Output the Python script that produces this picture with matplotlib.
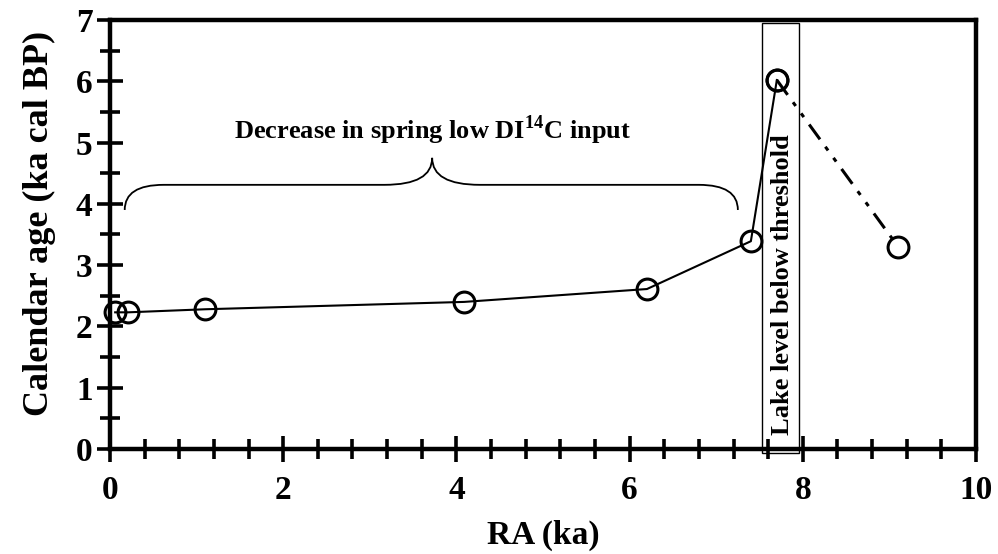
import numpy as np
import matplotlib
matplotlib.use("Agg")
import matplotlib.pyplot as plt
from matplotlib.path import Path
from matplotlib.patches import PathPatch, Rectangle
from matplotlib.ticker import MultipleLocator

# ── Data ──────────────────────────────────────────────────────────────────────
ra_main  = [0.06, 0.21, 1.10, 4.09, 6.20, 7.40, 7.70]   # RA (ka), solid segment
age_main = [2.23, 2.23, 2.28, 2.40, 2.61, 3.39, 6.02]   # calendar age (ka cal BP)
ra_tail  = [7.70, 9.10]                                  # dash-dot segment
age_tail = [6.02, 3.30]

x_ticks = [0, 2, 4, 6, 8, 10]
y_ticks = [0, 1, 2, 3, 4, 5, 6, 7]

brace_x = (0.17, 7.25)      # brace span in RA
brace_peak = 3.72
lake_box = (7.53, 7.95)     # RA range of the "lake level" box

# ── Style ─────────────────────────────────────────────────────────────────────
plt.rcParams['font.family'] = ['Liberation Serif', 'DejaVu Serif']
plt.rcParams['font.weight'] = 'bold'
plt.rcParams['mathtext.fontset'] = 'custom'
plt.rcParams['mathtext.rm'] = 'Liberation Serif:bold'
plt.rcParams['mathtext.bf'] = 'Liberation Serif:bold'

fig = plt.figure(figsize=(9.98, 5.54), dpi=100)
ax = fig.add_axes([0.1102, 0.1895, 0.978 - 0.1102, 0.964 - 0.1895])

ax.plot(ra_main, age_main, color='black', lw=1.5, marker='o', ms=15,
        mfc='none', mec='black', mew=2.2, clip_on=False, zorder=3)
ax.plot(ra_tail, age_tail, color='black', lw=2.2, dashes=(6, 3, 1.5, 3, 1.5, 3),
        marker='o', ms=15, mfc='none', mec='black', mew=2.2, zorder=3)

ax.set_xlim(0, 10)
ax.set_ylim(0, 7)
ax.set_xticks(x_ticks)
ax.set_yticks(y_ticks)
ax.xaxis.set_minor_locator(MultipleLocator(0.4))
ax.yaxis.set_minor_locator(MultipleLocator(0.5))

for s in ax.spines.values():
    s.set_linewidth(3.2)
ax.tick_params(which='major', direction='inout', length=19, width=2.6,
               labelsize=24)
ax.tick_params(axis='x', which='major', pad=9)
ax.tick_params(axis='y', which='major', pad=3)
ax.tick_params(which='minor', direction='inout', length=15, width=2.6)

ax.set_xlabel("RA (ka)", fontsize=24, fontweight='bold', labelpad=10)
ax.set_ylabel("Calendar age (ka cal BP)", fontsize=26, fontweight='bold')
ax.yaxis.set_label_coords(-0.062, 0.525)

# ── Curly brace ───────────────────────────────────────────────────────────────
x0, x1 = brace_x
ylow, ymid, ytop = 3.9, 4.31, 4.75
verts = [(x0, ylow), (x0, ymid), (x0 + 0.45, ymid),
         (brace_peak - 0.55, ymid),
         (brace_peak, ymid), (brace_peak, ytop),
         (brace_peak, ymid), (brace_peak + 0.55, ymid),
         (x1 - 0.45, ymid),
         (x1, ymid), (x1, ylow)]
codes = [Path.MOVETO, Path.CURVE3, Path.CURVE3,
         Path.LINETO,
         Path.CURVE3, Path.CURVE3,
         Path.CURVE3, Path.CURVE3,
         Path.LINETO,
         Path.CURVE3, Path.CURVE3]
ax.add_patch(PathPatch(Path(verts, codes), fc='none', ec='black', lw=1.3))

ax.text(brace_peak, 5.06, r"Decrease in spring low DI$^{14}$C input",
        ha='center', va='baseline', fontsize=19, fontweight='bold')

# ── Lake level box ────────────────────────────────────────────────────────────
ax.add_patch(Rectangle((lake_box[0], -0.06), lake_box[1] - lake_box[0], 7.01,
                       fc='none', ec='black', lw=1, clip_on=False, zorder=2))
ax.text(sum(lake_box) / 2 + 0.02, 2.69, "Lake level below threshold", rotation=90,
        ha='center', va='center', fontsize=19, fontweight='bold')

fig.savefig("out.png", dpi=100)
